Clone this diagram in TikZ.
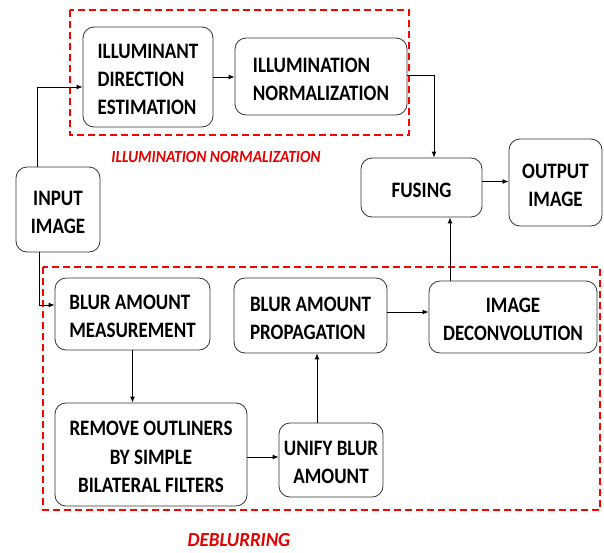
\documentclass[tikz,border=0pt]{standalone}
\usepackage{fontspec}
\usepackage{graphicx}
\setmainfont{Carlito}
\usetikzlibrary{arrows.meta}
\newcommand\btx[2]{\raisebox{0pt}[\dimexpr\height+8pt\relax][\depth]{\scalebox{1}[1.16]{\begin{tabular}{@{}#1@{}}#2\end{tabular}}}}
\begin{document}
\begin{tikzpicture}[x=1pt,y=-1pt,
  box/.style={draw=black!80,line width=0.8pt,rounded corners=11pt,inner sep=0pt,
    font=\bfseries\fontsize{19}{24.3}\selectfont},
  arr/.style={line width=1pt,-{Latex[length=6pt,width=5pt]}},
  grp/.style={draw=red,line width=1.4pt,dash pattern=on 7pt off 4pt},
  lbl/.style={text=red!90!black,inner sep=1pt}]
\useasboundingbox (0,0) rectangle (604,552);
\node[box,minimum width=130pt,minimum height=100pt] (b1) at (148,77) {\btx{l}{ILLUMINANT\\DIRECTION\\ESTIMATION}};
\node[box,minimum width=172pt,minimum height=77pt] (b2) at (321,76.5) {\btx{l}{ILLUMINATION\\NORMALIZATION}};
\node[box,minimum width=84pt,minimum height=85pt] (in) at (58,209.5) {\btx{c}{INPUT\\IMAGE}};
\node[box,minimum width=121pt,minimum height=59pt] (fu) at (421.5,187.5) {\btx{c}{FUSING}};
\node[box,minimum width=93pt,minimum height=87pt] (out) at (555.5,182.5) {\btx{c}{OUTPUT\\IMAGE}};
\node[box,minimum width=155pt,minimum height=72pt] (me) at (132.5,314) {\btx{l}{BLUR AMOUNT\\MEASUREMENT}};
\node[box,minimum width=153pt,minimum height=75pt] (pr) at (310.5,315.5) {\btx{l}{BLUR AMOUNT\\PROPAGATION}};
\node[box,minimum width=168pt,minimum height=72pt] (de) at (513,317) {\btx{c}{IMAGE\\DECONVOLUTION}};
\node[box,minimum width=192pt,minimum height=103pt] (re) at (151,454.5) {\btx{c}{REMOVE OUTLINERS\\BY SIMPLE\\BILATERAL FILTERS}};
\node[box,minimum width=104pt,minimum height=74pt] (un) at (331,460) {\btx{c}{UNIFY BLUR\\AMOUNT}};
\draw[grp] (70,10) rectangle (409,135);
\draw[grp] (43,267) rectangle (600,510);
\node[lbl,font=\bfseries\itshape\fontsize{15.5}{18}\selectfont] (l1) at (216,157) {\scalebox{1}[1.1]{ILLUMINATION NORMALIZATION}};
\node[lbl,font=\bfseries\itshape\fontsize{19}{22}\selectfont] (l2) at (239,540) {\scalebox{1}[1.05]{DEBLURRING}};
\draw[arr] ([xshift=-21pt]in.north) |- ([yshift=-10pt]b1.west);
\draw[arr] (b1.east) -- (b1.east -| b2.west);
\draw[arr] ([yshift=1.5pt]b2.east) -| ([xshift=12.5pt]fu.north);
\draw[arr] ([yshift=6pt]fu.east) -- ([yshift=6pt]fu.east -| out.west);
\draw[arr] ([xshift=-19pt]in.south) |- ([yshift=9pt]me.west);
\draw[arr] (me.south) -- (me.south |- re.north);
\draw[arr] ([yshift=-2.5pt]re.east) -- ([yshift=-2.5pt]re.east -| un.west);
\draw[arr] ([xshift=-14pt]un.north) -- ([xshift=-14pt]un.north |- pr.south);
\draw[arr] ([yshift=3.5pt]pr.east) -- ([yshift=3.5pt]pr.east -| de.west);
\draw[arr] ([xshift=-63pt]de.north) -- ([xshift=-63pt]de.north |- fu.south);
\end{tikzpicture}
\end{document}
